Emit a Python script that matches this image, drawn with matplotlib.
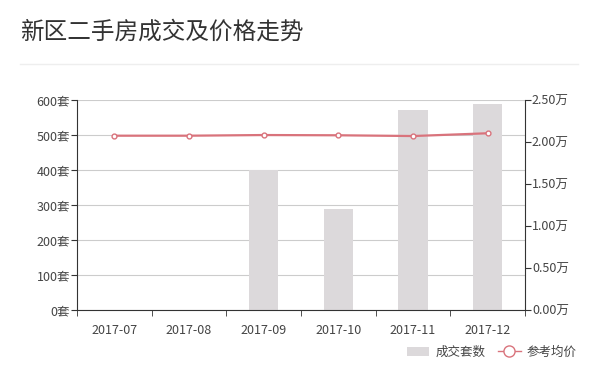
import matplotlib
matplotlib.use("Agg")
import matplotlib.pyplot as plt
from matplotlib.lines import Line2D
from matplotlib.patches import Patch
import numpy as np

plt.rcParams['font.family'] = ['Noto Sans CJK SC', 'DejaVu Sans']

# data
months = ['2017-07', '2017-08', '2017-09', '2017-10', '2017-11', '2017-12']
deals = [0, 0, 400, 290, 570, 589]             # 成交套数
avg_price = [2.075, 2.075, 2.083, 2.08, 2.071, 2.104]  # 参考均价 (万)

left_ticks = [0, 100, 200, 300, 400, 500, 600]
right_ticks = [0, 0.5, 1.0, 1.5, 2.0, 2.5]

bar_color = '#dcd9db'
line_color = '#d9737c'
axis_color = '#333333'
text_color = '#444444'

fig = plt.figure(figsize=(5.95, 3.78), dpi=100)
fig.text(20/595, 1 - 32/378, '新区二手房成交及价格走势', fontsize=17, color='#333333',
         va='center', ha='left')
fig.add_artist(Line2D([20/595, 578/595], [1 - 64/378, 1 - 64/378], color='#eeeeee', lw=1))

ax = fig.add_axes([77/595, 1 - 310/378, (525 - 77)/595, 210/378])
x = np.arange(len(months))
ax.bar(x, deals, width=0.39, color=bar_color, zorder=2)
ax.set_xlim(-0.5, len(months) - 0.5)
ax.set_ylim(0, 600)
ax.set_yticks(left_ticks)
ax.set_yticklabels([f'{v}套' for v in left_ticks])
ax.set_xticks(x)
ax.set_xticklabels(months)
ax.set_xticks(np.arange(len(months) + 1) - 0.5, minor=True)
ax.tick_params(axis='x', which='major', length=0, pad=10, labelsize=9, labelcolor=text_color)
ax.tick_params(axis='x', which='minor', length=4, color=axis_color, direction='out')
ax.tick_params(axis='y', length=4, color=axis_color, labelsize=9, labelcolor=text_color, pad=1)
ax.grid(axis='y', color='#cccccc', lw=0.8, zorder=0)
for s in ['top', 'right']:
    ax.spines[s].set_visible(False)
for s in ['left', 'bottom']:
    ax.spines[s].set_color(axis_color)

ax2 = ax.twinx()
ax2.plot(x, avg_price, color=line_color, lw=1.6, marker='o', ms=3.5,
         mfc='white', mec=line_color, mew=1, zorder=3)
ax2.set_ylim(0, 2.5)
ax2.set_yticks(right_ticks)
ax2.set_yticklabels([f'{v:.2f}万' for v in right_ticks])
ax2.tick_params(axis='y', length=4, color=axis_color, labelsize=9, labelcolor=text_color, pad=1)
for s in ['top', 'left', 'bottom']:
    ax2.spines[s].set_visible(False)
ax2.spines['right'].set_color(axis_color)

handles = [Patch(facecolor=bar_color, edgecolor='none'),
           Line2D([], [], color=line_color, lw=1, marker='o', ms=8, mfc='white', mec=line_color)]
fig.legend(handles, ['成交套数', '参考均价'], loc='center right',
           bbox_to_anchor=(588/595, 1 - 352/378), ncol=2, frameon=False,
           fontsize=9, labelcolor=text_color, handlelength=1.8, handletextpad=0.5,
           columnspacing=1.0)

fig.savefig('out.png', dpi=100, facecolor='white')
